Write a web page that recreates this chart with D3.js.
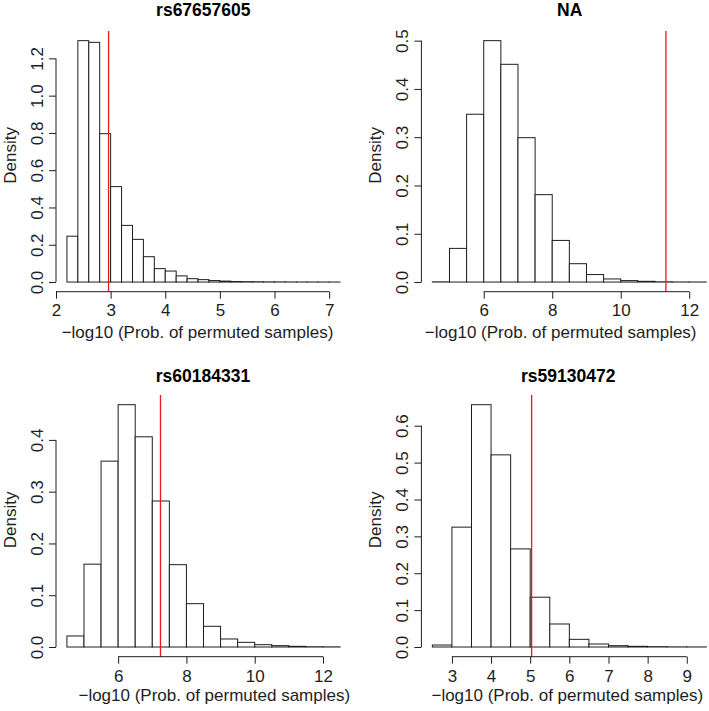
<!DOCTYPE html>
<html>
<head>
<meta charset="utf-8">
<script src="https://cdn.jsdelivr.net/npm/d3@7"></script>
<style>
  html, body { margin: 0; padding: 0; background: #fff; }
  svg { display: block; font-family: "Liberation Sans", Arial, Helvetica, sans-serif; }
</style>
</head>
<body>
<svg id="chart" width="709" height="711"></svg>
<script>
// ---------- DATA ----------
const titles = ["rs67657605", "NA", "rs60184331", "rs59130472"];
const xLabel = "\u2212log10 (Prob. of permuted samples)";
const yLabel = "Density";

// bin edges
const p1Breaks = [2.2, 2.4, 2.6, 2.8, 3.0, 3.2, 3.4, 3.6, 3.8, 4.0, 4.2, 4.4, 4.6, 4.8, 5.0, 5.2, 5.4, 5.6, 5.8, 6.0, 6.2, 6.4, 6.6, 6.8, 7.0, 7.2];
const p2Breaks = [4.5, 5.0, 5.5, 6.0, 6.5, 7.0, 7.5, 8.0, 8.5, 9.0, 9.5, 10.0, 10.5, 11.0, 11.5, 12.0, 12.5];
const p3Breaks = [4.5, 5.0, 5.5, 6.0, 6.5, 7.0, 7.5, 8.0, 8.5, 9.0, 9.5, 10.0, 10.5, 11.0, 11.5, 12.0, 12.5];
const p4Breaks = [2.5, 3.0, 3.5, 4.0, 4.5, 5.0, 5.5, 6.0, 6.5, 7.0, 7.5, 8.0, 8.5, 9.0, 9.5];

// densities per bin
const p1Density = [0.246, 1.295, 1.286, 0.796, 0.512, 0.304, 0.229, 0.136, 0.072, 0.059, 0.033, 0.018, 0.013, 0.008, 0.005, 0.003, 0.002, 0.0015, 0.001, 0.0008, 0.0005, 0.0004, 0.0003, 0.0002, 0.0001];
const p2Density = [0.0004, 0.0697, 0.3476, 0.500, 0.451, 0.299, 0.181, 0.0862, 0.038, 0.0155, 0.0064, 0.003, 0.0015, 0.0005, 0.0002, 0.0001];
const p3Density = [0.0213, 0.160, 0.359, 0.468, 0.406, 0.282, 0.159, 0.0837, 0.040, 0.0155, 0.009, 0.0045, 0.0026, 0.0013, 0.0005, 0.0003];
const p4Density = [0.0054, 0.325, 0.657, 0.521, 0.266, 0.135, 0.0624, 0.0208, 0.0081, 0.0036, 0.0018, 0.0009, 0.0004, 0.0002];

// observed values (red lines)
const observed = [2.962, 11.32, 7.24, 5.036];

// tick values
const p1XTicks = [2, 3, 4, 5, 6, 7];
const p2XTicks = [6, 8, 10, 12];
const p3XTicks = [6, 8, 10, 12];
const p4XTicks = [3, 4, 5, 6, 7, 8, 9];
const p1YTicks = [0, 0.2, 0.4, 0.6, 0.8, 1.0, 1.2];
const p2YTicks = [0, 0.1, 0.2, 0.3, 0.4, 0.5];
const p3YTicks = [0, 0.1, 0.2, 0.3, 0.4];
const p4YTicks = [0, 0.1, 0.2, 0.3, 0.4, 0.5, 0.6];

// ---------- LAYOUT ----------
const cols = [[56, 351], [421.4, 717.3]];
const rows = [[31, 291.7], [395, 656.7]];
const layout = [
  { col: 0, row: 0, tickDy: 24.4, labDy: 46.4, labCx: 197.5, titleCx: 203.3, titleDy: -15 },
  { col: 1, row: 0, tickDy: 24.4, labDy: 46.4, labCx: 560.7, titleCx: 569.7, titleDy: -15 },
  { col: 0, row: 1, tickDy: 25.2, labDy: 44.2, labCx: 214.3, titleCx: 203.0, titleDy: -13.5 },
  { col: 1, row: 1, tickDy: 25.2, labDy: 44.2, labCx: 567.3, titleCx: 568.2, titleDy: -13.5 }
];

const panels = [
  { breaks: p1Breaks, dens: p1Density, xt: p1XTicks, yt: p1YTicks },
  { breaks: p2Breaks, dens: p2Density, xt: p2XTicks, yt: p2YTicks },
  { breaks: p3Breaks, dens: p3Density, xt: p3XTicks, yt: p3YTicks },
  { breaks: p4Breaks, dens: p4Density, xt: p4XTicks, yt: p4YTicks }
];

const svg = d3.select("#chart");
svg.append("rect").attr("width", 709).attr("height", 711).attr("fill", "#fff");

const FS = 17;
const INK = "#1e1e1e";
const FONT = "Liberation Sans, Arial, sans-serif";

panels.forEach((p, i) => {
  const L = layout[i];
  const [x0, x1] = cols[L.col];
  const [yTop, yBot] = rows[L.row];
  const lo = p.breaks[0], hi = p.breaks[p.breaks.length - 1];
  const xr = hi - lo;
  const ymax = d3.max(p.dens);
  const x = d3.scaleLinear().domain([lo - 0.04 * xr, hi + 0.04 * xr]).range([x0, x1]);
  const y = d3.scaleLinear().domain([-0.04 * ymax, ymax * 1.04]).range([yBot, yTop]);

  const g = svg.append("g");

  // bars
  const bins = p.dens.map((d, k) => ({ a: p.breaks[k], b: p.breaks[k + 1], d }));
  g.selectAll("rect.bar").data(bins).join("rect")
    .attr("class", "bar")
    .attr("x", d => x(d.a))
    .attr("y", d => y(d.d))
    .attr("width", d => x(d.b) - x(d.a))
    .attr("height", d => Math.max(0, y(0) - y(d.d)))
    .attr("fill", "#fff")
    .attr("stroke", INK)
    .attr("stroke-width", 1);

  // red observed line
  g.append("line")
    .attr("x1", x(observed[i])).attr("x2", x(observed[i]))
    .attr("y1", yTop).attr("y2", yBot)
    .attr("stroke", "#e8191f").attr("stroke-width", 1.3);

  // x axis
  const xa = g.append("g").attr("transform", `translate(0,${yBot})`)
    .call(d3.axisBottom(x).tickValues(p.xt).tickSize(7).tickSizeOuter(0).tickFormat(d3.format("d")));
  xa.select(".domain").attr("d", `M${x(p.xt[0])},0H${x(p.xt[p.xt.length - 1])}`);
  xa.selectAll("line, path").attr("stroke", INK);
  xa.selectAll("text").attr("y", L.tickDy).attr("dy", 0)
    .attr("font-size", FS).attr("font-family", FONT).attr("fill", INK);

  // y axis
  const ya = g.append("g").attr("transform", `translate(${x0},0)`)
    .call(d3.axisLeft(y).tickValues(p.yt).tickSize(7).tickSizeOuter(0).tickFormat(d3.format(".1f")));
  ya.select(".domain").attr("d", `M0,${y(p.yt[0])}V${y(p.yt[p.yt.length - 1])}`);
  ya.selectAll("line, path").attr("stroke", INK);
  ya.selectAll("text")
    .attr("x", 0).attr("dy", 0)
    .attr("text-anchor", "middle")
    .attr("transform", "translate(-13,0) rotate(-90)")
    .attr("font-size", FS).attr("font-family", FONT).attr("fill", INK);

  // x label
  g.append("text")
    .attr("x", L.labCx).attr("y", yBot + L.labDy)
    .attr("text-anchor", "middle").attr("font-size", FS).attr("font-family", FONT).attr("fill", INK)
    .text(xLabel);

  // y label
  g.append("text")
    .attr("transform", `translate(${x0 - 40},${(yTop + yBot) / 2 - 6}) rotate(-90)`)
    .attr("text-anchor", "middle").attr("font-size", FS).attr("font-family", FONT).attr("fill", INK)
    .text(yLabel);

  // title
  g.append("text")
    .attr("x", L.titleCx).attr("y", yTop + L.titleDy)
    .attr("text-anchor", "middle").attr("font-size", 17.5).attr("font-family", FONT)
    .attr("font-weight", "bold").attr("fill", "#000")
    .text(titles[i]);
});
</script>
</body>
</html>
